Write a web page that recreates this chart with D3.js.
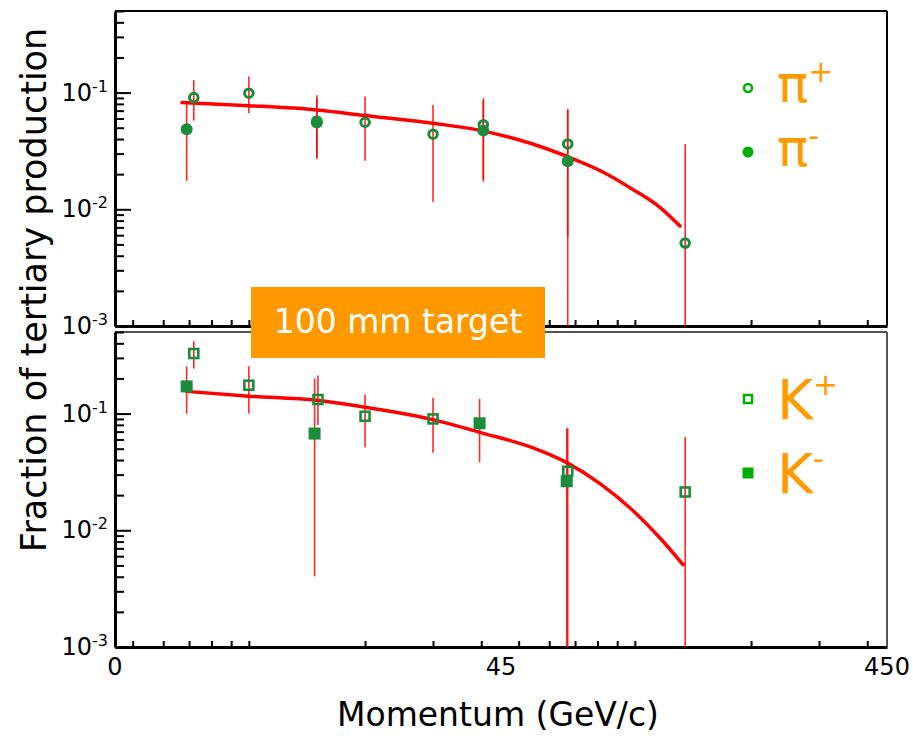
<!DOCTYPE html>
<html><head><meta charset="utf-8">
<script src="https://cdn.jsdelivr.net/npm/d3@7"></script>
<style>html,body{margin:0;padding:0;background:#fff}svg{display:block}</style>
</head><body>
<svg id="c" width="913" height="736"></svg>
<script>
// ---------- data ----------
// [momentum, fraction, errLow, errHigh]
const piPlus  = [[7.2,0.0906,0.0575,0.128],[10,0.0988,0.0665,0.137],[15,0.057,0.028,0.095],[20,0.0557,0.0261,0.0924],[30,0.044,0.0116,0.0784],[40.5,0.053,0.0172,0.0895],[67,0.0363,0.0058,0.0725],[135,0.00513,0.0004,0.0363]];
const piMinus = [[6.9,0.0485,0.0175,0.0832],[15,0.0555,0.027,0.09],[40.5,0.0472,0.018,0.085],[67,0.0258,0.0004,0.07]];
const kPlus   = [[7.2,0.327,0.243,0.417],[10,0.175,0.1,0.254],[15.1,0.132,0.08,0.212],[20,0.0948,0.0514,0.1456],[30,0.090,0.0461,0.1363],[67,0.032,0.0004,0.0754],[135,0.0213,0.0004,0.063]];
const kMinus  = [[6.9,0.171,0.1,0.254],[14.8,0.0674,0.00403,0.2],[39.6,0.0826,0.0383,0.1337],[66.6,0.0263,0.0004,0.074]];
const fitPi = [[6.71,0.0821],[10,0.0773],[15,0.0710],[20,0.0635],[30,0.0546],[40,0.0472],[53.6,0.0368],[67,0.0282],[81.4,0.0214],[98.8,0.0148],[116.5,0.0103],[130.9,0.00718]];
const fitK  = [[6.9,0.155],[10,0.141],[15,0.130],[20,0.1133],[30,0.0888],[39.6,0.0691],[54.5,0.0508],[66.8,0.0378],[81.4,0.0250],[98.8,0.0148],[116.5,0.0085],[133.2,0.00508]];
const xTickValues = [4.5, 45, 450];
const xTickLabels = ["0", "45", "450"];
const yTickValues = [0.1, 0.01, 0.001];
const yTickLabels = [["10","-1"],["10","-2"],["10","-3"]];
const legendPi = [["\u03c0","+"],["\u03c0","-"]];
const legendK  = [["K","+"],["K","-"]];
const boxLabel = "100 mm target";
const xTitle = "Momentum (GeV/c)";
const yTitle = "Fraction of tertiary production";

// ---------- layout ----------
const FONT = "'Comic Sans MS','DejaVu Sans',sans-serif";
const GREEN = "#1a8c3a", LGREEN = "#00b000", RED = "#ff0000", ORANGE = "#ff9900";
const svg = d3.select("#c");
const x = d3.scaleLog().domain([4.5, 450]).range([115, 887]);
const panels = [
  {y: d3.scaleLog().domain([0.001, 0.5]).range([326, 11]), top: 11, bottom: 326, frame: "#000",
   plus: piPlus, minus: piMinus, fit: fitPi, marker: "circle", legend: legendPi, id: "p1"},
  {y: d3.scaleLog().domain([0.001, 0.5]).range([647, 332]), top: 332, bottom: 647, frame: "#555",
   plus: kPlus, minus: kMinus, fit: fitK, marker: "square", legend: legendK, id: "p2"}
];

const defs = svg.append("defs");
panels.forEach(p => {
  defs.append("clipPath").attr("id", "clip" + p.id).append("rect")
    .attr("x", 115).attr("y", p.top).attr("width", 772).attr("height", p.bottom - p.top);
});

panels.forEach(p => {
  const g = svg.append("g");
  // frame top & right
  g.append("line").attr("x1",115).attr("x2",887).attr("y1",p.top).attr("y2",p.top)
    .attr("stroke",p.frame).attr("stroke-width",2.2);
  g.append("line").attr("x1",887).attr("x2",887).attr("y1",p.top).attr("y2",p.bottom)
    .attr("stroke",p.frame).attr("stroke-width",2);

  // y axis (ticks inward)
  const yAxis = d3.axisRight(p.y).tickSizeOuter(0).tickFormat("")
    .tickValues(p.y.ticks().filter(v => v <= 0.5));
  const ya = g.append("g").attr("transform","translate(115,0)").call(yAxis);
  ya.select(".domain").attr("stroke","#000").attr("stroke-width",3);
  ya.selectAll(".tick line").attr("stroke","#000").attr("stroke-width",2)
    .attr("x2", d => (Math.abs(Math.log10(d) - Math.round(Math.log10(d))) < 1e-6) ? 16 : 9);

  // y tick labels
  yTickValues.forEach((v, i) => {
    const t = g.append("text").attr("x", 108).attr("y", p.y(v) + 8)
      .attr("text-anchor","end").attr("font-family",FONT).attr("font-size",24).attr("fill","#000");
    t.append("tspan").text(yTickLabels[i][0]);
    t.append("tspan").attr("font-size",16).attr("dy",-9).text(yTickLabels[i][1]);
  });

  // x axis (ticks inward)
  const xAxis = d3.axisTop(x).tickSizeOuter(0).tickFormat("")
    .tickValues(x.ticks().filter(v => v > 4.5));
  const xa = g.append("g").attr("transform",`translate(0,${p.bottom})`).call(xAxis);
  xa.select(".domain").attr("stroke","#000").attr("stroke-width",3);
  xa.selectAll(".tick line").attr("stroke","#000").attr("stroke-width",2)
    .attr("y2", d => xTickValues.includes(d) ? -15 : -6);

  const data = g.append("g").attr("clip-path", `url(#clip${p.id})`);
  // error bars
  [...p.plus, ...p.minus].forEach(d => {
    data.append("line").attr("x1", x(d[0])).attr("x2", x(d[0]))
      .attr("y1", p.y(d[2])).attr("y2", p.y(d[3]))
      .attr("stroke", RED).attr("stroke-width", 1.6).attr("stroke-opacity", 0.85);
  });
  // fit
  data.append("path").datum(p.fit)
    .attr("d", d3.line().x(d => x(d[0])).y(d => p.y(d[1])).curve(d3.curveMonotoneX))
    .attr("fill","none").attr("stroke",RED).attr("stroke-width",3.5).attr("stroke-linecap","round");
  // markers
  if (p.marker === "circle") {
    data.selectAll(".mn").data(p.minus).enter().append("circle")
      .attr("cx", d => x(d[0])).attr("cy", d => p.y(d[1])).attr("r", 6).attr("fill", GREEN);
    data.selectAll(".mp").data(p.plus).enter().append("circle")
      .attr("cx", d => x(d[0])).attr("cy", d => p.y(d[1])).attr("r", 4.3)
      .attr("fill","none").attr("stroke", GREEN).attr("stroke-width", 3);
  } else {
    data.selectAll(".mn").data(p.minus).enter().append("rect")
      .attr("x", d => x(d[0]) - 6).attr("y", d => p.y(d[1]) - 6).attr("width", 12).attr("height", 12).attr("fill", GREEN);
    data.selectAll(".mp").data(p.plus).enter().append("rect")
      .attr("x", d => x(d[0]) - 4.5).attr("y", d => p.y(d[1]) - 4.5).attr("width", 9).attr("height", 9)
      .attr("fill","none").attr("stroke", GREEN).attr("stroke-width", 2.6);
  }

  // legend
  const ly = p.marker === "circle" ? [88, 152] : [399, 473];
  p.legend.forEach((L, i) => {
    if (p.marker === "circle") {
      if (i === 0) g.append("circle").attr("cx",748).attr("cy",ly[i]).attr("r",4).attr("fill","none").attr("stroke",LGREEN).attr("stroke-width",2.5);
      else g.append("circle").attr("cx",748).attr("cy",ly[i]).attr("r",5.5).attr("fill",LGREEN);
    } else {
      if (i === 0) g.append("rect").attr("x",744).attr("y",ly[i]-4).attr("width",8).attr("height",8).attr("fill","none").attr("stroke",LGREEN).attr("stroke-width",2.5);
      else g.append("rect").attr("x",742.5).attr("y",ly[i]-5.5).attr("width",11).attr("height",11).attr("fill",LGREEN);
    }
    const big = p.marker === "circle";
    const t = g.append("text").attr("x", 777).attr("y", ly[i] + (big ? 14 : 20))
      .attr("font-family",FONT).attr("font-size", big ? 52 : 55).attr("fill",ORANGE);
    t.append("tspan").text(L[0]);
    t.append("tspan").attr("font-size", 30).attr("dy", big ? -20 : -24).text(L[1]);
  });
});

// x tick labels
xTickValues.forEach((v, i) => {
  svg.append("text").attr("x", x(v)).attr("y", 675).attr("text-anchor","middle")
    .attr("font-family",FONT).attr("font-size",24).attr("fill","#000").text(xTickLabels[i]);
});

// orange label box
svg.append("rect").attr("x",251).attr("y",287).attr("width",294).attr("height",71).attr("fill",ORANGE);
svg.append("text").attr("x",398).attr("y",333).attr("text-anchor","middle")
  .attr("font-family",FONT).attr("font-size",33).attr("fill","#fff").text(boxLabel);

// titles
svg.append("text").attr("x",498).attr("y",726).attr("text-anchor","middle")
  .attr("font-family",FONT).attr("font-size",33).attr("fill","#000").text(xTitle);
svg.append("text").attr("transform","translate(46,290) rotate(-90)").attr("text-anchor","middle")
  .attr("font-family",FONT).attr("font-size",35).attr("fill","#000").text(yTitle);
</script>
</body></html>
